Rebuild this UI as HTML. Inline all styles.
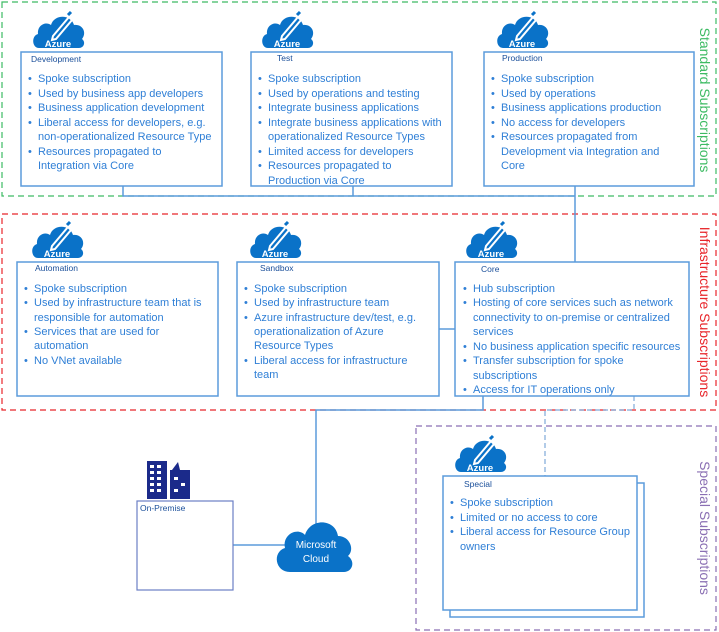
<!DOCTYPE html>
<html><head><meta charset="utf-8"><style>
body{margin:0;background:#fff}
svg{display:block}
text{font-family:"Liberation Sans",sans-serif}
.b{font-size:11px;fill:#2f7fd6}
.t{font-size:8.5px;fill:#1a4f9a}
.box{fill:#fff;stroke:#5b9bdc;stroke-width:1.5}
.ln{stroke:#5b9bdc;stroke-width:1.5;fill:none}
</style></head><body>
<svg width="719" height="632" viewBox="0 0 719 632">
<defs>
<g id="az">
<path d="M6,37 C-1,37 -2,25 5,23 C4,14 13,10 18,14 C21,3 38,3 41,14 C50,13 54,22 49,28 C53,31 51,37 46,37 Z" fill="#0a72c8"/>
<path d="M20,25 L36,6 L39,9 L23,28 L19,29 Z" fill="none" stroke="#fff" stroke-width="2"/>
<line x1="35" y1="4" x2="38" y2="1" stroke="#0a72c8" stroke-width="3"/>
</g>
</defs>
<rect x="2" y="2" width="714" height="194" fill="none" stroke="#3dbb63" stroke-width="1.2" stroke-dasharray="6,4"/>
<rect x="2" y="214" width="714" height="196" fill="none" stroke="#e8262b" stroke-width="1.2" stroke-dasharray="6,4"/>
<rect x="416" y="426" width="300" height="204" fill="none" stroke="#8a6fb3" stroke-width="1.2" stroke-dasharray="6,4"/>
<text transform="translate(700,100) rotate(90)" text-anchor="middle" font-size="14" fill="#3dbb63">Standard Subscriptions</text>
<text transform="translate(700,312) rotate(90)" text-anchor="middle" font-size="14" fill="#e8262b">Infrastructure Subscriptions</text>
<text transform="translate(700,528) rotate(90)" text-anchor="middle" font-size="14" fill="#8a6fb3">Special Subscriptions</text>
<path class="ln" d="M123,186 V196 H575 M353,186 V196 M575,186 V262 M438,329 H455 M483,396 V410 H316 V525 M233,545 H285"/>
<path d="M634,396 V410 H545 V476" fill="none" stroke="#7fa9d9" stroke-width="1.2" stroke-dasharray="5,3"/>
<rect class="box" x="21" y="52" width="201" height="134"/>
<rect class="box" x="251" y="52" width="201" height="134"/>
<rect class="box" x="484" y="52" width="210" height="134"/>
<rect class="box" x="17" y="262" width="201" height="134"/>
<rect class="box" x="237" y="262" width="202" height="134"/>
<rect class="box" x="455" y="262" width="234" height="134"/>
<rect class="box" x="450" y="483" width="194" height="134"/>
<rect class="box" x="443" y="476" width="194" height="134"/>
<rect x="137" y="501" width="96" height="89" fill="#fff" stroke="#6b7fc4" stroke-width="1.2"/>
<g transform="translate(33,11)"><use href="#az"/><text x="25" y="36" text-anchor="middle" font-size="9.5" font-weight="bold" fill="#fff">Azure</text></g>
<g transform="translate(262,11)"><use href="#az"/><text x="25" y="36" text-anchor="middle" font-size="9.5" font-weight="bold" fill="#fff">Azure</text></g>
<g transform="translate(497,11)"><use href="#az"/><text x="25" y="36" text-anchor="middle" font-size="9.5" font-weight="bold" fill="#fff">Azure</text></g>
<g transform="translate(32,221)"><use href="#az"/><text x="25" y="36" text-anchor="middle" font-size="9.5" font-weight="bold" fill="#fff">Azure</text></g>
<g transform="translate(250,221)"><use href="#az"/><text x="25" y="36" text-anchor="middle" font-size="9.5" font-weight="bold" fill="#fff">Azure</text></g>
<g transform="translate(466,221)"><use href="#az"/><text x="25" y="36" text-anchor="middle" font-size="9.5" font-weight="bold" fill="#fff">Azure</text></g>
<g transform="translate(455,435)"><use href="#az"/><text x="25" y="36" text-anchor="middle" font-size="9.5" font-weight="bold" fill="#fff">Azure</text></g>
<g fill="#1b2a8a">
<rect x="147" y="461" width="20" height="38"/><rect x="170" y="470" width="20" height="29"/><path d="M172,470 L178,462 L180,470 Z"/>
</g>
<g fill="#fff">
<rect x="150" y="465" width="4" height="3"/><rect x="157" y="465" width="4" height="3"/>
<rect x="150" y="471" width="4" height="3"/><rect x="157" y="471" width="4" height="3"/>
<rect x="150" y="477" width="4" height="3"/><rect x="157" y="477" width="4" height="3"/>
<rect x="150" y="483" width="4" height="3"/><rect x="157" y="483" width="4" height="3"/>
<rect x="150" y="489" width="4" height="3"/><rect x="157" y="489" width="4" height="3"/>
<rect x="174" y="477" width="4" height="3"/><rect x="181" y="483" width="4" height="3"/><rect x="174" y="489" width="4" height="3"/>
</g>
<path d="M290,572 C275,572 272,552 285,548 C282,534 298,527 305,535 C310,518 335,518 338,536 C350,536 355,550 348,556 C356,562 352,572 344,572 Z" fill="#0a72c8"/>
<text x="316" y="548" text-anchor="middle" font-size="10" fill="#fff">Microsoft</text>
<text x="316" y="562" text-anchor="middle" font-size="10" fill="#fff">Cloud</text>
<text class="t" x="31" y="62">Development</text>
<text class="t" x="277" y="61">Test</text>
<text class="t" x="502" y="61">Production</text>
<text class="t" x="35" y="271">Automation</text>
<text class="t" x="260" y="271">Sandbox</text>
<text class="t" x="481" y="272">Core</text>
<text class="t" x="464" y="487">Special</text>
<text class="t" x="140" y="511">On-Premise</text>
<g class="b">
<text x="28" y="82">•</text><text x="38" y="82">Spoke subscription</text>
<text x="28" y="97">•</text><text x="38" y="97">Used by business app developers</text>
<text x="28" y="111">•</text><text x="38" y="111">Business application development</text>
<text x="28" y="126">•</text><text x="38" y="126">Liberal access for developers, e.g.</text>
<text x="38" y="140">non-operationalized Resource Type</text>
<text x="28" y="155">•</text><text x="38" y="155">Resources propagated to</text>
<text x="38" y="169">Integration via Core</text>

<text x="258" y="82">•</text><text x="268" y="82">Spoke subscription</text>
<text x="258" y="97">•</text><text x="268" y="97">Used by operations and testing</text>
<text x="258" y="111">•</text><text x="268" y="111">Integrate business applications</text>
<text x="258" y="126">•</text><text x="268" y="126">Integrate business applications with</text>
<text x="268" y="140">operationalized Resource Types</text>
<text x="258" y="155">•</text><text x="268" y="155">Limited access for developers</text>
<text x="258" y="169">•</text><text x="268" y="169">Resources propagated to</text>
<text x="268" y="184">Production via Core</text>

<text x="491" y="82">•</text><text x="501" y="82">Spoke subscription</text>
<text x="491" y="97">•</text><text x="501" y="97">Used by operations</text>
<text x="491" y="111">•</text><text x="501" y="111">Business applications production</text>
<text x="491" y="126">•</text><text x="501" y="126">No access for developers</text>
<text x="491" y="140">•</text><text x="501" y="140">Resources propagated from</text>
<text x="501" y="155">Development via Integration and</text>
<text x="501" y="169">Core</text>

<text x="24" y="292">•</text><text x="34" y="292">Spoke subscription</text>
<text x="24" y="306">•</text><text x="34" y="306">Used by infrastructure team that is</text>
<text x="34" y="321">responsible for automation</text>
<text x="24" y="335">•</text><text x="34" y="335">Services that are used for</text>
<text x="34" y="349">automation</text>
<text x="24" y="364">•</text><text x="34" y="364">No VNet available</text>

<text x="244" y="292">•</text><text x="254" y="292">Spoke subscription</text>
<text x="244" y="306">•</text><text x="254" y="306">Used by infrastructure team</text>
<text x="244" y="321">•</text><text x="254" y="321">Azure infrastructure dev/test, e.g.</text>
<text x="254" y="335">operationalization of Azure</text>
<text x="254" y="349">Resource Types</text>
<text x="244" y="364">•</text><text x="254" y="364">Liberal access for infrastructure</text>
<text x="254" y="378">team</text>

<text x="463" y="292">•</text><text x="473" y="292">Hub subscription</text>
<text x="463" y="306">•</text><text x="473" y="306">Hosting of core services such as network</text>
<text x="473" y="321">connectivity to on-premise or centralized</text>
<text x="473" y="335">services</text>
<text x="463" y="350">•</text><text x="473" y="350">No business application specific resources</text>
<text x="463" y="364">•</text><text x="473" y="364">Transfer subscription for spoke</text>
<text x="473" y="379">subscriptions</text>
<text x="463" y="393">•</text><text x="473" y="393">Access for IT operations only</text>

<text x="450" y="506">•</text><text x="460" y="506">Spoke subscription</text>
<text x="450" y="521">•</text><text x="460" y="521">Limited or no access to core</text>
<text x="450" y="535">•</text><text x="460" y="535">Liberal access for Resource Group</text>
<text x="460" y="550">owners</text>
</g>
</svg>
</body></html>
